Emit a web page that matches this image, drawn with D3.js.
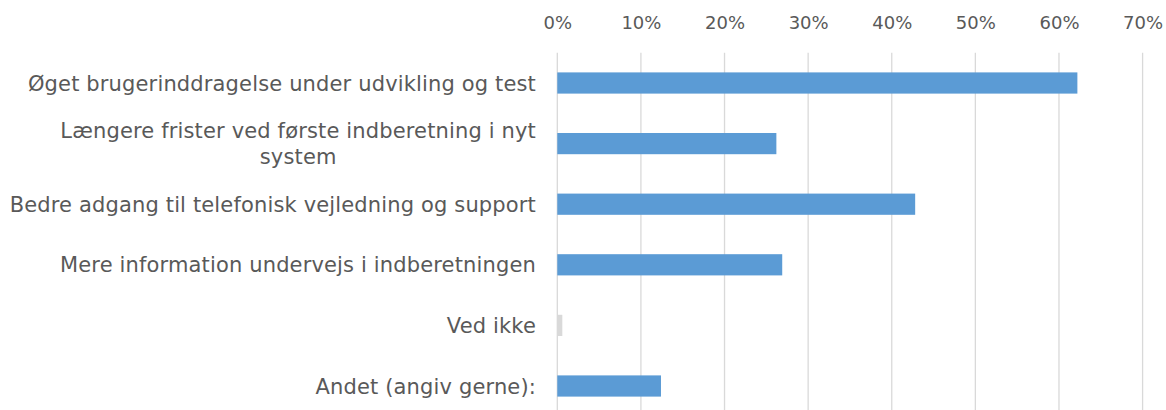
<!DOCTYPE html>
<html lang="da">
<head>
<meta charset="UTF-8">
<title>Tiltag</title>
<script src="https://d3js.org/d3.v7.min.js"></script>
<style>
  body { margin: 0; background: #fff; }
  text { font-family: 'DejaVu Sans', Verdana, sans-serif; fill: #595959; }
</style>
</head>
<body>
<div id="chart"></div>
<script>
// categories, top to bottom ("\n" marks the line break used in the original)
var categories = [
  "Øget brugerinddragelse under udvikling og test",
  "Længere frister ved første indberetning i nyt\nsystem",
  "Bedre adgang til telefonisk vejledning og support",
  "Mere information undervejs i indberetningen",
  "Ved ikke",
  "Andet (angiv gerne):"
];
var values = [62.2, 26.2, 42.8, 26.9, 0.6, 12.4];
var barColors = ["#5B9BD5", "#5B9BD5", "#5B9BD5", "#5B9BD5", "#D9D9D9", "#5B9BD5"];
var ticks = [0, 10, 20, 30, 40, 50, 60, 70];

var W = 1166, H = 410;
var plotLeft = 557.3, plotRight = 1142.6, plotTop = 52.7, plotBottom = 416.3;
var labelRight = 536;

var svg = d3.select("#chart").append("svg")
  .attr("width", W)
  .attr("height", H);

var x = d3.scaleLinear().domain([0, 70]).range([plotLeft, plotRight]);
var y = d3.scaleBand().domain(categories).range([plotTop, plotBottom]).paddingInner(0.65).paddingOuter(0.325);

// gridlines
svg.append("g")
  .selectAll("line")
  .data(ticks)
  .enter()
  .append("line")
  .attr("x1", d => x(d))
  .attr("x2", d => x(d))
  .attr("y1", plotTop)
  .attr("y2", H)
  .attr("stroke", "#D9D9D9")
  .attr("stroke-width", 1.3);

// top axis labels
var xAxis = d3.axisTop(x).tickValues(ticks).tickFormat(d => d + "%").tickSize(0).tickPadding(0);
var gx = svg.append("g")
  .attr("transform", "translate(0,28.5)")
  .call(xAxis);
gx.select(".domain").remove();
gx.selectAll("text")
  .attr("dy", 0)
  .style("font-size", "18px")
  .style("font-family", "'DejaVu Sans', Verdana, sans-serif")
  .attr("fill", "#595959");

// bars
svg.append("g")
  .selectAll("rect")
  .data(categories)
  .enter()
  .append("rect")
  .attr("x", x(0))
  .attr("y", d => y(d))
  .attr("width", (d, i) => x(values[i]) - x(0))
  .attr("height", y.bandwidth())
  .attr("fill", (d, i) => barColors[i]);

// category labels
var labels = svg.append("g")
  .selectAll("text")
  .data(categories)
  .enter()
  .append("text")
  .style("font-size", "21px")
  .style("letter-spacing", "0.15px");

labels.each(function(d) {
  var lines = d.split("\n");
  var t = d3.select(this);
  var cy = y(d) + y.bandwidth() / 2;
  var lh = 25.5;
  var y0 = cy - (lines.length - 1) * lh / 2;
  if (lines.length === 1) {
    t.attr("x", labelRight).attr("y", cy).attr("dy", "0.36em").attr("text-anchor", "end").text(d);
  } else {
    // first line right aligned, following lines centered under it
    var first = t.append("tspan").attr("x", labelRight).attr("y", y0).attr("dy", "0.36em")
      .attr("text-anchor", "end").text(lines[0]);
    var w = first.node().getComputedTextLength();
    for (var k = 1; k < lines.length; k++) {
      t.append("tspan").attr("x", labelRight - w / 2).attr("y", y0 + k * lh).attr("dy", "0.36em")
        .attr("text-anchor", "middle").text(lines[k]);
    }
  }
});
</script>
</body>
</html>
